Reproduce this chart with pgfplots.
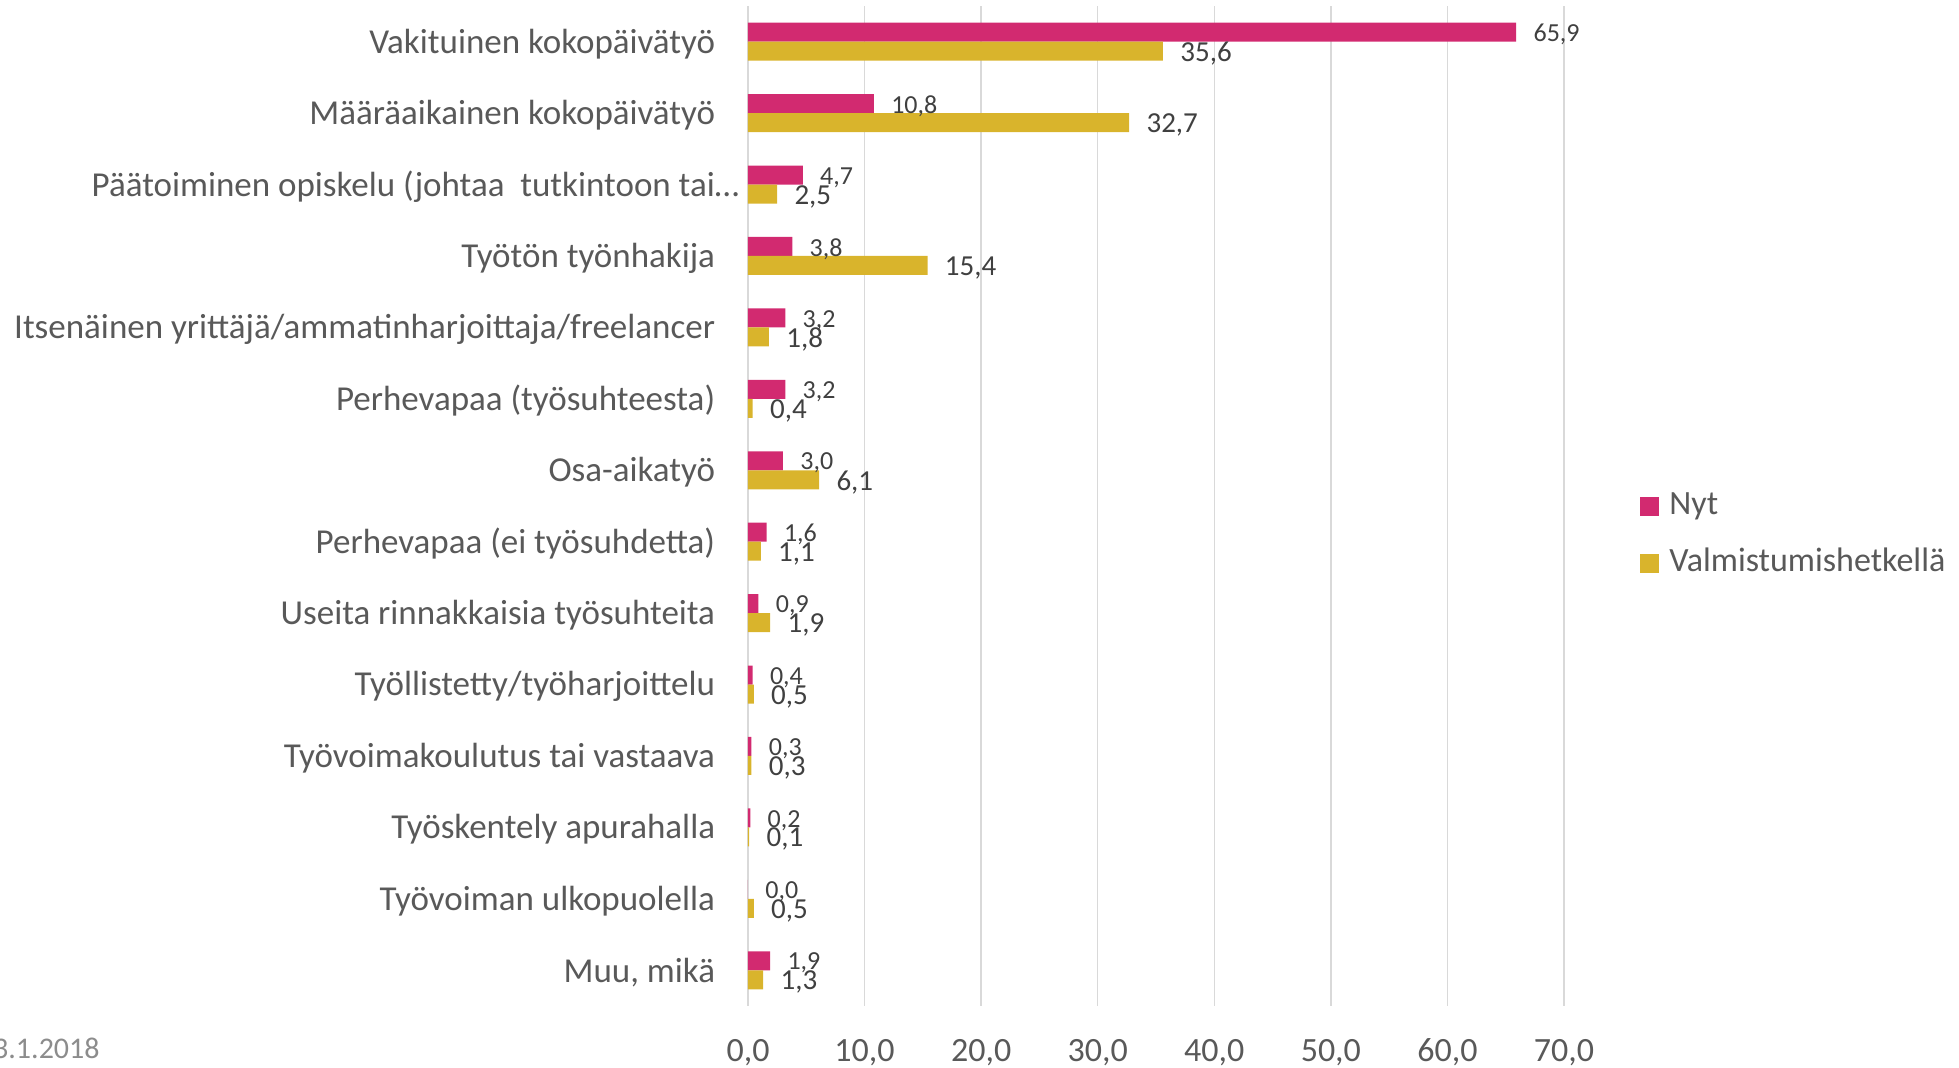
\documentclass[border=0pt]{standalone}
\usepackage{fontspec}
\setmainfont{Carlito}
\usepackage{pgfplots}
\pgfplotsset{compat=1.18}
\definecolor{nyt}{HTML}{D22A70}
\definecolor{valm}{HTML}{D9B42C}
\definecolor{txt}{HTML}{404040}
\definecolor{txtb}{HTML}{595959}
\definecolor{gridc}{HTML}{D9D9D9}
\definecolor{datec}{HTML}{8C8C8C}
\begin{document}
\begin{tikzpicture}
\path[use as bounding box] (0,0) rectangle (979.5pt,534pt);
\begin{axis}[
  at={(374pt,31pt)}, anchor=south west,
  scale only axis, width=408pt, height=500pt,
  xbar, bar width=9.5pt,
  xmin=0, xmax=70, ymin=-0.5, ymax=13.5,
  xtick={0,10,...,70},
  ytick={0,...,13},
  /pgf/number format/assume math mode=true,
  xticklabel={\pgfmathprintnumber[fixed,fixed zerofill,precision=1,use comma]{\tick}},
  yticklabels={{Muu, mikä},
    Työvoiman ulkopuolella,
    Työskentely apurahalla,
    Työvoimakoulutus tai vastaava,
    Työllistetty/työharjoittelu,
    Useita rinnakkaisia työsuhteita,
    Perhevapaa (ei työsuhdetta),
    Osa-aikatyö,
    Perhevapaa (työsuhteesta),
    Itsenäinen yrittäjä/ammatinharjoittaja/freelancer,
    Työtön työnhakija,
    {Päätoiminen opiskelu (johtaa\ \ tutkintoon tai\rlap{…}},
    Määräaikainen kokopäivätyö,
    Vakituinen kokopäivätyö},
  xmajorgrids, major grid style={gridc, line width=0.75pt},
  axis line style={draw=none},
  tick style={draw=none},
  xticklabel style={font=\fontsize{17}{20}\selectfont, text=txtb, anchor=base, inner sep=0pt, yshift=-28pt},
  yticklabel style={font=\fontsize{17.5}{20}\selectfont, text=txtb, anchor=east, inner sep=0pt, xshift=-12pt, yshift=-1pt},
  point meta=x,
  nodes near coords={\pgfmathprintnumber[fixed,fixed zerofill,precision=1,use comma]{\pgfplotspointmeta}},
  every node near coord/.append style={anchor=west, inner sep=0pt, xshift=8.5pt, yshift=-1.2pt, text=txt},
  legend image code/.code={\fill[#1] (0pt,-4.75pt) rectangle (9.5pt,4.75pt);},
  legend style={at={(1.0931,0.471)}, anchor=west, draw=none, fill=none, inner sep=0pt,
    font=\fontsize{17}{20}\selectfont, text=txtb, row sep=12.5pt,
    nodes={inner sep=0pt, text height=12pt, text depth=4pt},
    /tikz/every odd column/.append style={column sep=5pt}},
  legend cell align=left,
]
\addplot+[draw=none, fill=nyt, bar shift=4.75pt,
  every node near coord/.append style={font=\fontsize{13}{15}\selectfont}] coordinates {
  (65.9,13) (10.8,12) (4.7,11) (3.8,10) (3.2,9) (3.2,8) (3.0,7)
  (1.6,6) (0.9,5) (0.4,4) (0.3,3) (0.2,2) (0.0,1) (1.9,0)};
\addplot+[draw=none, fill=valm, bar shift=-4.75pt,
  every node near coord/.append style={font=\fontsize{14.5}{17}\selectfont}] coordinates {
  (35.6,13) (32.7,12) (2.5,11) (15.4,10) (1.8,9) (0.4,8) (6.1,7)
  (1.1,6) (1.9,5) (0.5,4) (0.3,3) (0.1,2) (0.5,1) (1.3,0)};
\legend{Nyt, Valmistumishetkellä}
\end{axis}
\node[anchor=base east, inner sep=0pt, font=\fontsize{15}{18}\selectfont, text=datec] at (50pt,4.5pt) {23.1.2018};
\end{tikzpicture}
\end{document}
